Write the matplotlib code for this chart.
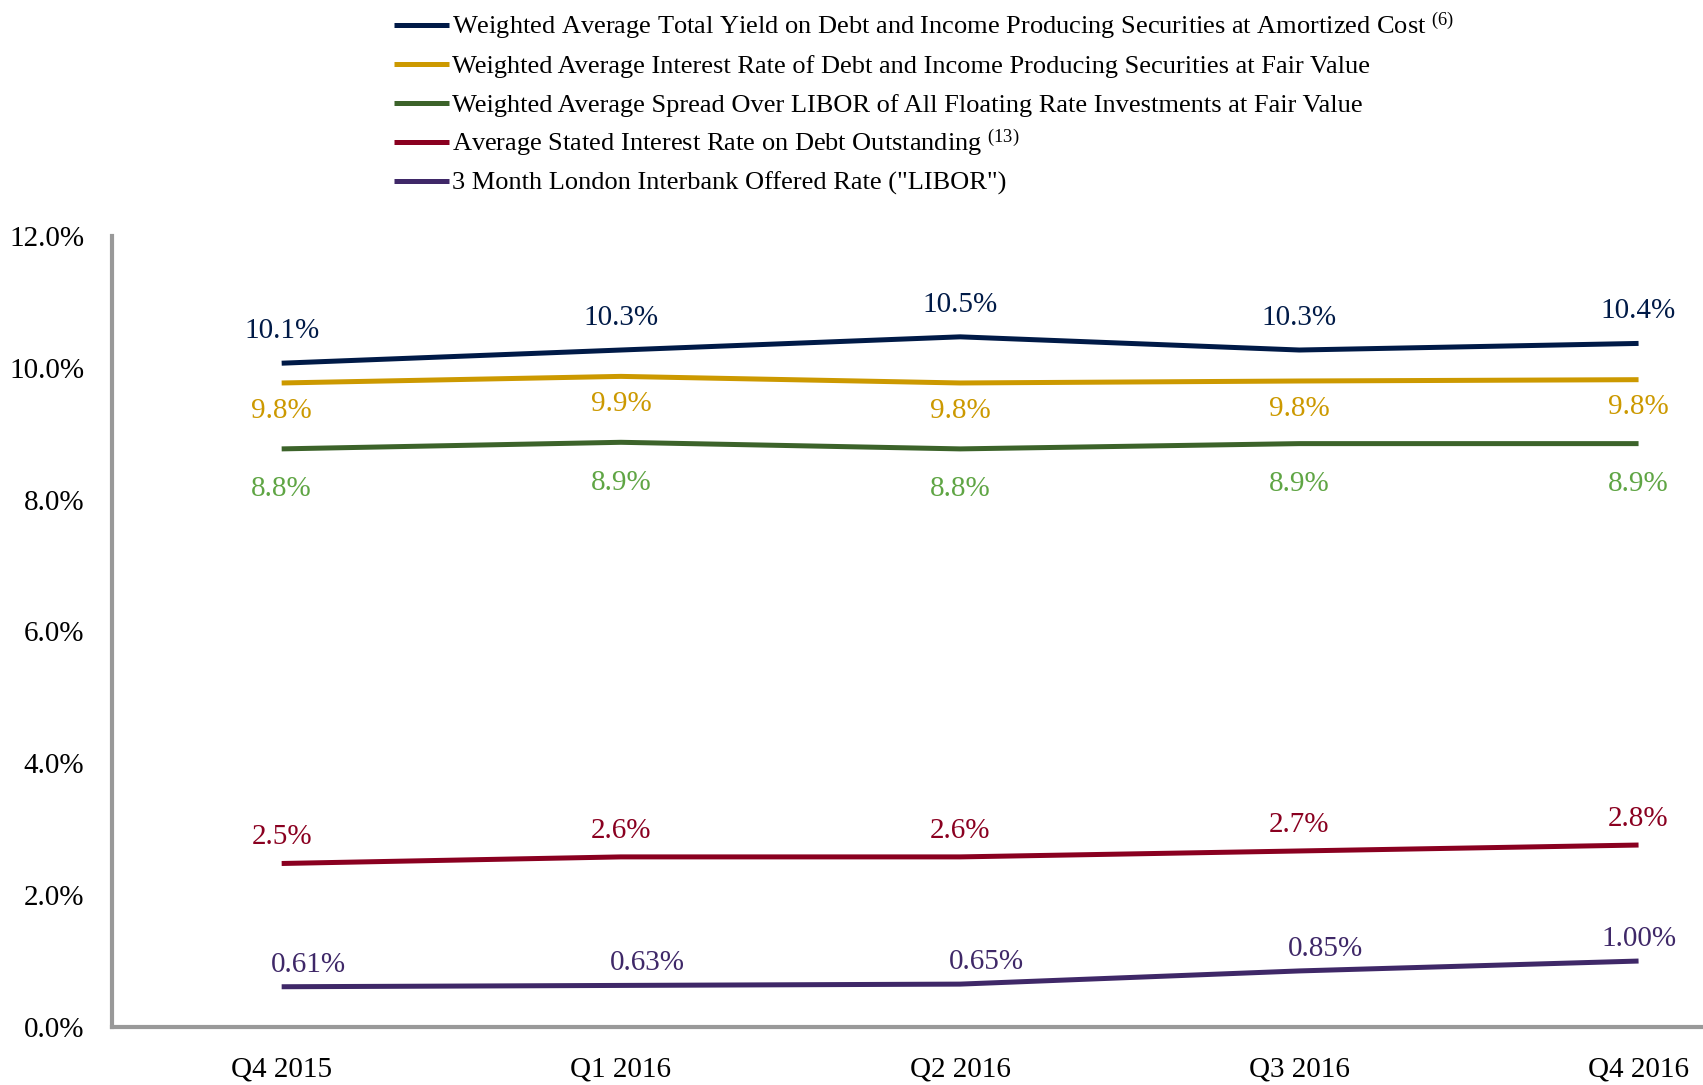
"""
plot.py

Yield and rate trends by quarter, Q4 2015 - Q4 2016.
"""

import matplotlib
matplotlib.use("Agg")
import matplotlib.pyplot as plt
from matplotlib.lines import Line2D

#####################################
# Data
#####################################

quarters = ["Q4 2015", "Q1 2016", "Q2 2016", "Q3 2016", "Q4 2016"]

total_yield = [10.07, 10.27, 10.47, 10.27, 10.37]
interest_fair = [9.77, 9.87, 9.77, 9.80, 9.82]
spread_libor = [8.77, 8.87, 8.77, 8.85, 8.85]
debt_rate = [2.48, 2.58, 2.58, 2.67, 2.76]
libor_3m = [0.61, 0.63, 0.65, 0.85, 1.00]

total_yield_labels = ["10.1%", "10.3%", "10.5%", "10.3%", "10.4%"]
interest_fair_labels = ["9.8%", "9.9%", "9.8%", "9.8%", "9.8%"]
spread_libor_labels = ["8.8%", "8.9%", "8.8%", "8.9%", "8.9%"]
debt_rate_labels = ["2.5%", "2.6%", "2.6%", "2.7%", "2.8%"]
libor_3m_labels = ["0.61%", "0.63%", "0.65%", "0.85%", "1.00%"]

legend_names = [
    "Weighted Average Total Yield on Debt and Income Producing Securities at Amortized Cost $^{(6)}$",
    "Weighted Average Interest Rate of Debt and Income Producing Securities at Fair Value",
    "Weighted Average Spread Over LIBOR of All Floating Rate Investments at Fair Value",
    "Average Stated Interest Rate on Debt Outstanding $^{(13)}$",
    "3 Month London Interbank Offered Rate (\"LIBOR\")",
]

#####################################
# Style
#####################################

plt.rcParams["font.family"] = ["Liberation Serif", "DejaVu Serif"]
plt.rcParams["mathtext.fontset"] = "custom"
plt.rcParams["mathtext.rm"] = "Liberation Serif"
plt.rcParams["mathtext.it"] = "Liberation Serif"

# (values, labels, line colour, label colour, label offset in points)
series = [
    (total_yield, total_yield_labels, "#001a47", "#001a47", 23),
    (interest_fair, interest_fair_labels, "#cc9900", "#cc9900", -20),
    (spread_libor, spread_libor_labels, "#3c632a", "#5fa544", -29),
    (debt_rate, debt_rate_labels, "#8a0020", "#8a0020", 19),
    (libor_3m, libor_3m_labels, "#3f2868", "#3f2868", 16),
]

W, H = 1703, 1085
fig = plt.figure(figsize=(W / 100, H / 100), dpi=100)
ax = fig.add_axes([0.0658, 0.0535, 0.9342, 0.729])

x = list(range(len(quarters)))
for i, (vals, labs, lc, tc, dy) in enumerate(series):
    ax.plot(x, vals, color=lc, linewidth=3.6, solid_capstyle="butt")
    for j, (xv, yv, lab) in enumerate(zip(x, vals, labs)):
        dx = 0
        if i == 4 and j < 4:
            dx = 19  # LIBOR labels sit a bit to the right
        ax.annotate(lab, (xv, yv), xytext=(dx, dy), textcoords="offset points",
                    ha="center", va="center", color=tc, fontsize=21)

ax.set_ylim(0, 12)
ax.set_xlim(-0.5, 4.19)
ax.set_yticks([0, 2, 4, 6, 8, 10, 12])
ax.set_yticklabels(["0.0%", "2.0%", "4.0%", "6.0%", "8.0%", "10.0%", "12.0%"])
ax.set_xticks(x)
ax.set_xticklabels(quarters)
ax.tick_params(axis="both", length=0, labelsize=21)
ax.tick_params(axis="y", pad=20)
ax.tick_params(axis="x", pad=21)

for side in ["top", "right"]:
    ax.spines[side].set_visible(False)
for side in ["left", "bottom"]:
    ax.spines[side].set_color("#999999")
    ax.spines[side].set_linewidth(3)

# Legend drawn by hand so rows are evenly spaced
row_y = [25, 64, 103, 142, 181]  # pixel rows from top
for (vals, labs, lc, tc, dy), name, ry in zip(series, legend_names, row_y):
    yf = 1 - ry / H
    fig.add_artist(Line2D([394 / W, 449 / W], [yf, yf], transform=fig.transFigure,
                          color=lc, linewidth=3.6, solid_capstyle="butt"))
    fig.text(452 / W, 1 - (ry + 9) / H, name, fontsize=19, va="baseline",
             ha="left", color="black")

fig.savefig("out.png", dpi=100)
